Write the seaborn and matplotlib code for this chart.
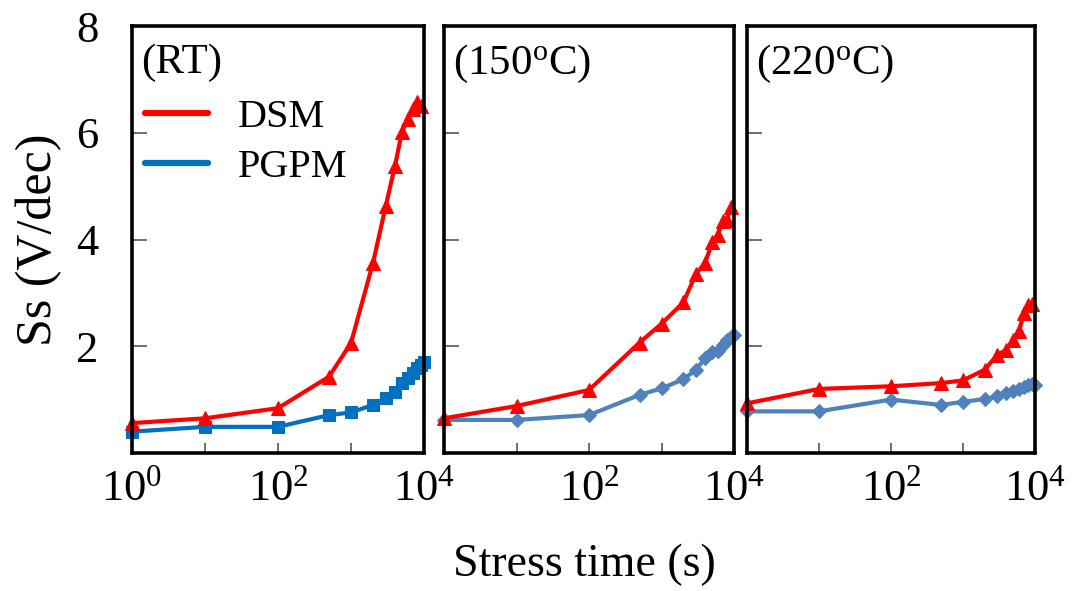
import matplotlib
matplotlib.use("Agg")
import matplotlib.pyplot as plt
import seaborn as sns
import pandas as pd
from matplotlib.lines import Line2D
from matplotlib.ticker import FixedLocator, FixedFormatter, LogLocator, NullFormatter

# ---------------- data ----------------
panels = ["(RT)", "(150$^{\\rm o}$C)", "(220$^{\\rm o}$C)"]

t_dsm = [1, 10, 100, 500, 1000, 2000, 3000, 4000, 5000, 6000, 7000, 8000, 9000]
t_pgpm = [1, 10, 100, 500, 1000, 2000, 3000, 4000, 5000, 6000, 7000, 8000, 9000, 10000]

dsm_rt = [0.56, 0.65, 0.84, 1.43, 2.06, 3.56, 4.63, 5.38, 6.02, 6.25, 6.45, 6.58, 6.50]
pgpm_rt = [0.40, 0.49, 0.49, 0.71, 0.76, 0.90, 1.03, 1.15, 1.31, 1.40, 1.50, 1.59, 1.65, 1.71]

dsm_150 = [0.65, 0.88, 1.18, 2.07, 2.42, 2.82, 3.36, 3.56, 3.95, 4.09, 4.34, 4.36, 4.60]
pgpm_150 = [0.62, 0.62, 0.71, 1.09, 1.21, 1.38, 1.56, 1.78, 1.90, 1.92, 2.03, 2.12, 2.18, 2.22]

dsm_220 = [0.93, 1.20, 1.25, 1.31, 1.36, 1.56, 1.84, 1.93, 2.12, 2.28, 2.62, 2.78, 2.80]
pgpm_220 = [0.78, 0.78, 1.00, 0.90, 0.96, 1.01, 1.06, 1.12, 1.17, 1.20, 1.23, 1.27, 1.30, 1.28]

dsm_sets = [dsm_rt, dsm_150, dsm_220]
pgpm_sets = [pgpm_rt, pgpm_150, pgpm_220]

ytick_vals = [2, 4, 6, 8]
ytick_labels = ["2", "4", "6", "8"]
xtick_vals = [1, 10, 100, 1000, 10000]
xtick_labels_first = ["$10^0$", "", "$10^2$", "", "$10^4$"]
xtick_labels_other = ["", "", "$10^2$", "", "$10^4$"]

# ---------------- style ----------------
sns.set_theme(style="white")
plt.rcParams["font.family"] = ["Liberation Serif", "DejaVu Serif"]
plt.rcParams["mathtext.fontset"] = "custom"
plt.rcParams["mathtext.rm"] = "Liberation Serif"
plt.rcParams["mathtext.it"] = "Liberation Serif:italic"
plt.rcParams["mathtext.bf"] = "Liberation Serif:bold"
plt.rcParams["text.color"] = "black"
plt.rcParams["xtick.color"] = "black"
plt.rcParams["ytick.color"] = "black"
plt.rcParams["xtick.labelcolor"] = "black"
plt.rcParams["ytick.labelcolor"] = "black"

RED = "#FF0000"
BLUE_RT = "#0070C0"
BLUE = "#4F81BD"

fig = plt.figure(figsize=(10.73, 5.91), dpi=100)

W, H = 1073, 591
boxes = [(132, 424), (444, 734), (747, 1035)]
top_px, bot_px = 26, 453

pgpm_markers = ["s", "D", "D"]
pgpm_msize = [9, 7, 7]
pgpm_colors = [BLUE_RT, BLUE, BLUE]

for i, (l, r) in enumerate(boxes):
    ax = fig.add_axes([l / W, 1 - bot_px / H, (r - l) / W, (bot_px - top_px) / H])
    df_d = pd.DataFrame({"t": t_dsm, "ss": dsm_sets[i]})
    df_p = pd.DataFrame({"t": t_pgpm, "ss": pgpm_sets[i]})
    sns.lineplot(data=df_p, x="t", y="ss", ax=ax, color=pgpm_colors[i], linewidth=3.0,
                 marker=pgpm_markers[i], markersize=pgpm_msize[i],
                 markeredgecolor=pgpm_colors[i], clip_on=False, zorder=3)
    sns.lineplot(data=df_d, x="t", y="ss", ax=ax, color=RED, linewidth=3.0,
                 marker="^", markersize=10, markeredgecolor=RED,
                 clip_on=False, zorder=4)
    ax.set_xscale("log")
    ax.set_xlim(1, 10000)
    ax.set_ylim(0, 8)
    ax.set_xlabel("")
    ax.set_ylabel("")
    for sp in ax.spines.values():
        sp.set_linewidth(2.6)
        sp.set_color("black")
        sp.set_visible(True)
        sp.set_zorder(5)
    ax.xaxis.set_major_locator(FixedLocator(xtick_vals))
    ax.xaxis.set_major_formatter(FixedFormatter(xtick_labels_first if i == 0 else xtick_labels_other))
    ax.xaxis.set_minor_locator(LogLocator(base=10, subs=range(2, 10)))
    ax.xaxis.set_minor_formatter(NullFormatter())
    ax.yaxis.set_major_locator(FixedLocator(ytick_vals))
    if i == 0:
        ax.yaxis.set_major_formatter(FixedFormatter(ytick_labels))
    else:
        ax.yaxis.set_major_formatter(FixedFormatter(["", "", "", ""]))
    ax.tick_params(axis="x", which="major", direction="in", length=7, width=1.2,
                   color="#555555", labelsize=32, pad=12, bottom=True, top=False)
    ax.tick_params(axis="x", which="minor", direction="in", length=4.5, width=1.0,
                   color="#555555", bottom=True, top=False)
    ax.tick_params(axis="y", which="major", direction="in", length=11, width=1.2,
                   color="#555555", labelsize=32, pad=24, left=True, right=False)
    ax.text(0.03, 0.96, panels[i], transform=ax.transAxes, ha="left", va="top",
            fontsize=31, color="black")
    if i == 0:
        handles = [Line2D([0], [0], color=RED, lw=4.5),
                   Line2D([0], [0], color=BLUE_RT, lw=4.5)]
        ax.legend(handles, ["DSM", "PGPM"], loc="upper left",
                  bbox_to_anchor=(0.045, 0.83), frameon=False, fontsize=29,
                  handlelength=1.55, handletextpad=0.75, labelspacing=0.32,
                  borderaxespad=0, borderpad=0)

fig.text(0.036, 0.595, "Ss (V/dec)", rotation=90, ha="center", va="center", fontsize=36)
fig.text(0.545, 0.045, "Stress time (s)", ha="center", va="center", fontsize=33)

fig.savefig("out.png", dpi=100)
